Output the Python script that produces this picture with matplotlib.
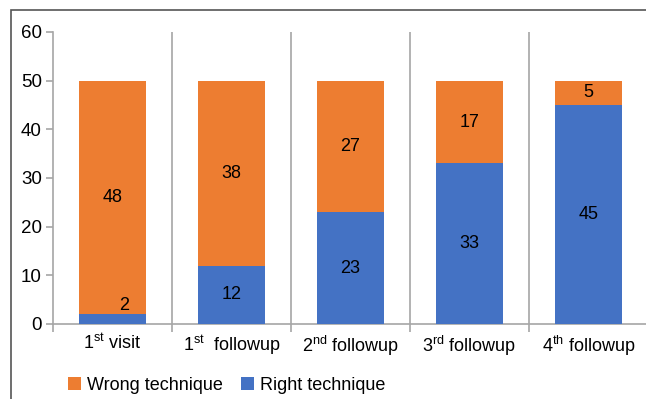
import matplotlib.pyplot as plt
import numpy as np
from matplotlib.patches import Rectangle

plt.rcParams['font.family'] = ['Liberation Sans', 'DejaVu Sans']

visits = [r'1$^{\mathregular{st}}$ visit', r'1$^{\mathregular{st}}$  followup',
          r'2$^{\mathregular{nd}}$ followup', r'3$^{\mathregular{rd}}$ followup',
          r'4$^{\mathregular{th}}$ followup']
right = [2, 12, 23, 33, 45]
wrong = [48, 38, 27, 17, 5]

orange = '#ED7D31'
blue = '#4472C4'
grid_col = '#A6A6A6'

fig = plt.figure(figsize=(6.46, 3.99), dpi=100)
ax = fig.add_axes([53 / 646, 1 - 324 / 399, 595 / 646, 292 / 399])

# outer frame around the whole chart
fig.patches.append(Rectangle((11 / 646, -0.2), 1.2, 1 - 10 / 399 + 0.2,
                             transform=fig.transFigure, fill=False,
                             edgecolor='#555555', linewidth=1.2))

x = np.arange(len(visits))
w = 0.56
ax.bar(x, right, w, color=blue, label='Right technique', zorder=3)
ax.bar(x, wrong, w, bottom=right, color=orange, label='Wrong technique', zorder=3)

for i in range(len(x)):
    if right[i] < 5:
        ax.text(x[i] + 0.1, right[i], str(right[i]), ha='center', va='bottom', fontsize=13)
    else:
        ax.text(x[i], right[i] / 2, str(right[i]), ha='center', va='center', fontsize=13)
    ax.text(x[i], right[i] + wrong[i] / 2, str(wrong[i]), ha='center', va='center', fontsize=13)

ax.set_xlim(-0.5, len(x) - 0.5)
ax.set_ylim(0, 60)
ax.set_yticks(range(0, 61, 10))

# category separators
for b in np.arange(0.5, len(x) - 0.5, 1):
    ax.axvline(b, color=grid_col, linewidth=1.2, zorder=1)

ax.set_xticks(x)
ax.set_xticklabels(visits, fontsize=13)
ax.set_xticks(np.arange(-0.5, len(x), 1), minor=True)
ax.tick_params(axis='x', which='major', length=0, pad=7)
ax.tick_params(axis='x', which='minor', length=6, color=grid_col, width=1.2)
ax.tick_params(axis='y', labelsize=13.5, length=5, color=grid_col, width=1.2, pad=3)

for s in ['top', 'right']:
    ax.spines[s].set_visible(False)
ax.spines['left'].set_color(grid_col)
ax.spines['bottom'].set_color(grid_col)
ax.spines['left'].set_linewidth(1.2)
ax.spines['bottom'].set_linewidth(1.2)

handles, labels = ax.get_legend_handles_labels()
fig.legend(handles[::-1], labels[::-1], loc='center left',
           bbox_to_anchor=(68 / 646, 1 - 385.5 / 399), ncol=2, frameon=False,
           fontsize=13, handlelength=0.72, handleheight=0.72, handletextpad=0.33,
           columnspacing=1.0, borderpad=0, borderaxespad=0)

fig.savefig('out.png', dpi=100)
